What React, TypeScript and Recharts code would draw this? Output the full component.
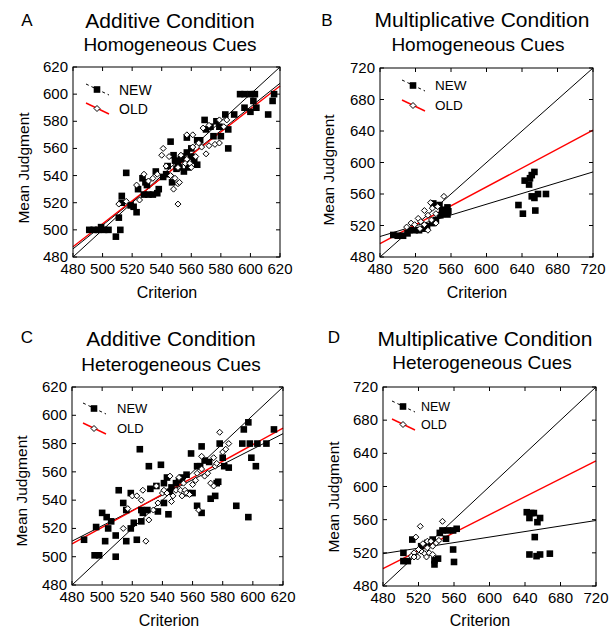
import { ScatterChart, Scatter, XAxis, YAxis, ReferenceLine } from "recharts";

type Pt = [number, number];

// Panel A: additive, homogeneous cues
const aNew: Pt[] = [
  [491, 500], [494, 500], [497, 500], [499, 502], [501, 500], [504, 500], [509, 495], [512, 500],
  [511, 509], [513, 525], [513, 520], [516, 542], [519, 518], [521, 517], [523, 513], [524, 530],
  [527, 538], [529, 535], [530, 533], [528, 526], [531, 526], [534, 526], [537, 527], [536, 543],
  [538, 530], [541, 539], [543, 541], [546, 565], [544, 547], [548, 555], [550, 545], [551, 549],
  [553, 552], [557, 568], [557, 557], [560, 560], [560, 554], [562, 551], [564, 548], [564, 566],
  [566, 566], [569, 581], [570, 574], [573, 576], [575, 569], [577, 580], [579, 576], [580, 569],
  [583, 585], [585, 574], [585, 560], [589, 585], [593, 600], [596, 600], [600, 600], [603, 600],
  [596, 590], [600, 587], [602, 595], [604, 590], [612, 585], [615, 595], [616, 600], [552, 546],
  [555, 543], [558, 546], [547, 535], [549, 551], [554, 554],
];
const aOld: Pt[] = [
  [511, 519], [516, 521], [523, 533], [525, 522], [528, 541], [531, 536], [534, 538], [537, 541],
  [541, 560], [545, 554], [547, 539], [548, 530], [551, 534], [552, 535], [551, 519], [553, 555],
  [556, 549], [557, 552], [559, 549], [561, 561], [563, 554], [567, 561], [570, 556], [572, 562],
  [568, 575], [572, 577], [576, 563], [579, 564], [579, 581], [582, 576], [584, 581], [557, 570],
  [561, 570], [565, 564], [543, 547], [546, 540], [540, 555], [549, 538], [551, 546], [560, 546],
];
const aFitNew = [486, 608];
const aFitOld = [487.5, 606];

// Panel B: multiplicative, homogeneous cues
const bNew: Pt[] = [
  [495, 508], [500, 507], [506, 507], [511, 510], [513, 514], [519, 514], [524, 514], [530, 516],
  [533, 519], [539, 523], [543, 527], [548, 533], [552, 535], [556, 543], [547, 546], [550, 540],
  [540, 548], [557, 538], [556, 534], [654, 588], [651, 584], [649, 580], [643, 577], [648, 572],
  [651, 557], [654, 555], [658, 560], [667, 560], [636, 546], [641, 535], [655, 539],
];
const bOld: Pt[] = [
  [552, 557], [537, 549], [530, 539], [523, 529], [515, 523], [510, 518], [539, 542], [543, 535],
  [534, 533], [538, 527], [526, 525], [519, 521], [545, 544], [530, 521], [543, 523], [525, 516],
  [534, 514],
];
const bFitNew = [506, 588];
const bFitOld = [497, 641];

// Panel C: additive, heterogeneous cues
const cNew: Pt[] = [
  [488, 512], [495, 501], [498, 501], [496, 521], [500, 531], [502, 511], [503, 528], [504, 520],
  [506, 525], [509, 515], [509, 500], [511, 547], [514, 538], [516, 533], [516, 511], [519, 545],
  [519, 520], [521, 524], [523, 512], [525, 576], [526, 533], [526, 525], [527, 531], [530, 533],
  [531, 564], [532, 548], [536, 550], [539, 565], [537, 532], [541, 552], [541, 538], [543, 556],
  [544, 530], [545, 546], [546, 549], [549, 552], [551, 554], [553, 556], [556, 558], [559, 573],
  [557, 545], [560, 545], [563, 536], [563, 564], [565, 564], [566, 578], [566, 531], [568, 568],
  [571, 567], [572, 541], [575, 543], [576, 552], [577, 553], [578, 580], [580, 570], [581, 564],
  [584, 563], [589, 536], [594, 590], [597, 595], [593, 580], [598, 580], [599, 570], [602, 564],
  [597, 528], [603, 580], [609, 580], [614, 590],
];
const cOld: Pt[] = [
  [514, 520], [517, 534], [520, 543], [523, 543], [526, 540], [527, 547], [529, 511], [531, 526],
  [534, 533], [536, 550], [537, 538], [540, 545], [541, 547], [543, 545], [546, 539], [549, 547],
  [551, 556], [552, 547], [554, 552], [555, 547], [556, 545], [558, 544], [560, 551], [562, 554],
  [563, 559], [564, 533], [566, 562], [568, 557], [570, 559], [572, 552], [574, 550], [575, 564],
  [578, 588], [580, 574], [582, 576], [584, 580], [574, 570], [576, 566], [566, 571], [545, 557],
  [547, 543], [553, 543],
];
const cFitNew = [511, 587];
const cFitOld = [509, 591];

// Panel D: multiplicative, heterogeneous cues
const dNew: Pt[] = [
  [503, 520], [503, 510], [508, 510], [513, 536], [523, 528], [530, 532], [536, 536], [538, 511],
  [538, 506], [542, 513], [544, 544], [547, 547], [553, 547], [559, 547], [563, 549], [551, 537],
  [559, 524], [560, 509], [642, 569], [647, 568], [650, 568], [645, 562], [654, 557], [657, 562],
  [651, 539], [645, 518], [653, 516], [657, 518], [668, 519],
];
const dOld: Pt[] = [
  [522, 552], [547, 558], [517, 539], [512, 516], [515, 520], [519, 515], [523, 522], [527, 519],
  [530, 526], [529, 515], [536, 528], [540, 532], [543, 535], [525, 531], [532, 520], [536, 518],
  [520, 524], [530, 534], [534, 534], [515, 515],
];
const dFitNew = [519, 559];
const dFitOld = [501, 631];

const ticksNarrow = [480, 500, 520, 540, 560, 580, 600, 620];
const ticksWide = [480, 520, 560, 600, 640, 680, 720];

const FONT = "'Liberation Sans', Arial, sans-serif";

const toPts = (arr: Pt[]) => arr.map(([x, y]) => ({ x, y }));

const Square = (p: any) => (
  <rect x={p.cx - 3.3} y={p.cy - 3.3} width={6.6} height={6.6} fill="#000" />
);
const Diamond = (p: any) => (
  <path
    d={`M${p.cx},${p.cy - 3}L${p.cx + 3},${p.cy}L${p.cx},${p.cy + 3}L${p.cx - 3},${p.cy}Z`}
    fill="#fff"
    stroke="#000"
    strokeWidth={1}
  />
);

const panels = [
  {
    letter: "A", title: "Additive Condition", sub: "Homogeneous Cues",
    left: 0, top: 0, w: 300, h: 310,
    plot: { l: 73, t: 67, r: 280, b: 257 },
    ticks: ticksNarrow, newPts: aNew, oldPts: aOld, fitNew: aFitNew, fitOld: aFitOld,
    letterPos: [27, 26], titlePos: [170, 28], subPos: [170, 51], yLab: [23, 168], xLab: [167, 298],
    legend: { x: 86, y: 84, gap: 19, tx: 119, fs: 14 },
  },
  {
    letter: "B", title: "Multiplicative Condition", sub: "Homogeneous Cues",
    left: 300, top: 0, w: 314, h: 310,
    plot: { l: 80, t: 68, r: 293, b: 257 },
    ticks: ticksWide, newPts: bNew, oldPts: bOld, fitNew: bFitNew, fitOld: bFitOld,
    letterPos: [27, 26], titlePos: [182, 27], subPos: [178, 51], yLab: [28, 170], xLab: [177, 298],
    legend: { x: 102, y: 80, gap: 20, tx: 135, fs: 13.5 },
  },
  {
    letter: "C", title: "Additive Condition", sub: "Heterogeneous Cues",
    left: 0, top: 310, w: 300, h: 319,
    plot: { l: 72, t: 77, r: 283, b: 275 },
    ticks: ticksNarrow, newPts: cNew, oldPts: cOld, fitNew: cFitNew, fitOld: cFitOld,
    letterPos: [27, 33], titlePos: [171, 36], subPos: [171, 61], yLab: [21, 181], xLab: [169, 316],
    legend: { x: 83, y: 93, gap: 20, tx: 117, fs: 13 },
  },
  {
    letter: "D", title: "Multiplicative Condition", sub: "Heterogeneous Cues",
    left: 300, top: 310, w: 314, h: 319,
    plot: { l: 83, t: 77, r: 296, b: 276 },
    ticks: ticksWide, newPts: dNew, oldPts: dOld, fitNew: dFitNew, fitOld: dFitOld,
    letterPos: [34, 33], titlePos: [185, 36], subPos: [182, 59], yLab: [33, 187], xLab: [180, 316],
    legend: { x: 92, y: 91, gap: 18, tx: 121, fs: 12.5 },
  },
];

function Panel({ cfg }: { cfg: (typeof panels)[number] }) {
  const { plot, ticks, w, h } = cfg;
  const lo = ticks[0];
  const hi = ticks[ticks.length - 1];
  const lg = cfg.legend;

  const xTick = (p: any) => (
    <g>
      <line x1={p.x} x2={p.x} y1={plot.b} y2={plot.b - 4} stroke="#000" />
      <line x1={p.x} x2={p.x} y1={plot.t} y2={plot.t + 4} stroke="#000" />
      <text x={p.x} y={plot.b + 17} textAnchor="middle" fontSize={15} fontFamily={FONT} fill="#000">
        {p.payload.value}
      </text>
    </g>
  );
  const yTick = (p: any) => (
    <g>
      <line x1={plot.l} x2={plot.l + 4} y1={p.y} y2={p.y} stroke="#000" />
      <line x1={plot.r} x2={plot.r - 4} y1={p.y} y2={p.y} stroke="#000" />
      <text x={plot.l - 5} y={p.y + 5} textAnchor="end" fontSize={15} fontFamily={FONT} fill="#000">
        {p.payload.value}
      </text>
    </g>
  );

  return (
    <div style={{ position: "absolute", left: cfg.left, top: cfg.top, width: w, height: h }}>
      <ScatterChart
        width={w}
        height={h}
        margin={{ top: plot.t, left: plot.l - 30, right: w - plot.r, bottom: h - plot.b - 30 }}
      >
        <XAxis
          type="number"
          dataKey="x"
          domain={[lo, hi]}
          ticks={ticks}
          interval={0}
          allowDataOverflow
          height={30}
          axisLine={false}
          tickLine={false}
          tick={xTick}
        />
        <YAxis
          type="number"
          dataKey="y"
          domain={[lo, hi]}
          ticks={ticks}
          interval={0}
          allowDataOverflow
          width={30}
          axisLine={false}
          tickLine={false}
          tick={yTick}
        />
        <Scatter data={toPts(cfg.newPts)} shape={Square} isAnimationActive={false} />
        <Scatter data={toPts(cfg.oldPts)} shape={Diamond} isAnimationActive={false} />
        <ReferenceLine segment={[{ x: lo, y: lo }, { x: hi, y: hi }]} stroke="#000" strokeWidth={1} />
        <ReferenceLine
          segment={[{ x: lo, y: cfg.fitNew[0] }, { x: hi, y: cfg.fitNew[1] }]}
          stroke="#000"
          strokeWidth={1}
        />
        <ReferenceLine
          segment={[{ x: lo, y: cfg.fitOld[0] }, { x: hi, y: cfg.fitOld[1] }]}
          stroke="#ff0000"
          strokeWidth={1.4}
        />
      </ScatterChart>
      <svg
        width={w}
        height={h}
        style={{ position: "absolute", left: 0, top: 0, pointerEvents: "none" }}
        fontFamily={FONT}
      >
        <rect x={plot.l} y={plot.t} width={plot.r - plot.l} height={plot.b - plot.t} fill="none" stroke="#000" />
        <text x={cfg.letterPos[0]} y={cfg.letterPos[1]} textAnchor="middle" fontSize={17}>
          {cfg.letter}
        </text>
        <text x={cfg.titlePos[0]} y={cfg.titlePos[1]} textAnchor="middle" fontSize={21}>
          {cfg.title}
        </text>
        <text x={cfg.subPos[0]} y={cfg.subPos[1]} textAnchor="middle" fontSize={19}>
          {cfg.sub}
        </text>
        <text
          x={cfg.yLab[0]}
          y={cfg.yLab[1]}
          textAnchor="middle"
          dominantBaseline="central"
          fontSize={15.5}
          transform={`rotate(-90 ${cfg.yLab[0]} ${cfg.yLab[1]})`}
        >
          Mean Judgment
        </text>
        <text x={cfg.xLab[0]} y={cfg.xLab[1]} textAnchor="middle" fontSize={16}>
          Criterion
        </text>
        {/* legend */}
        <line x1={lg.x} y1={lg.y} x2={lg.x + 23} y2={lg.y + 11} stroke="#000" strokeDasharray="3 3" />
        <rect x={lg.x + 11 - 3.3} y={lg.y + 5.5 - 3.3} width={6.6} height={6.6} fill="#000" />
        <text x={lg.tx} y={lg.y + 5.5 + lg.fs * 0.36} fontSize={lg.fs}>
          NEW
        </text>
        <line x1={lg.x} y1={lg.y + lg.gap} x2={lg.x + 23} y2={lg.y + lg.gap + 11} stroke="#ff0000" strokeWidth={1.4} />
        <path
          d={`M${lg.x + 11},${lg.y + lg.gap + 2.5}l3,3l-3,3l-3,-3Z`}
          fill="#fff"
          stroke="#000"
        />
        <text x={lg.tx} y={lg.y + lg.gap + 5.5 + lg.fs * 0.36} fontSize={lg.fs}>
          OLD
        </text>
      </svg>
    </div>
  );
}

export default function App() {
  return (
    <div style={{ position: "absolute", left: 0, top: 0, width: 614, height: 629, background: "#fff" }}>
      {panels.map((cfg) => (
        <Panel key={cfg.letter} cfg={cfg} />
      ))}
    </div>
  );
}
